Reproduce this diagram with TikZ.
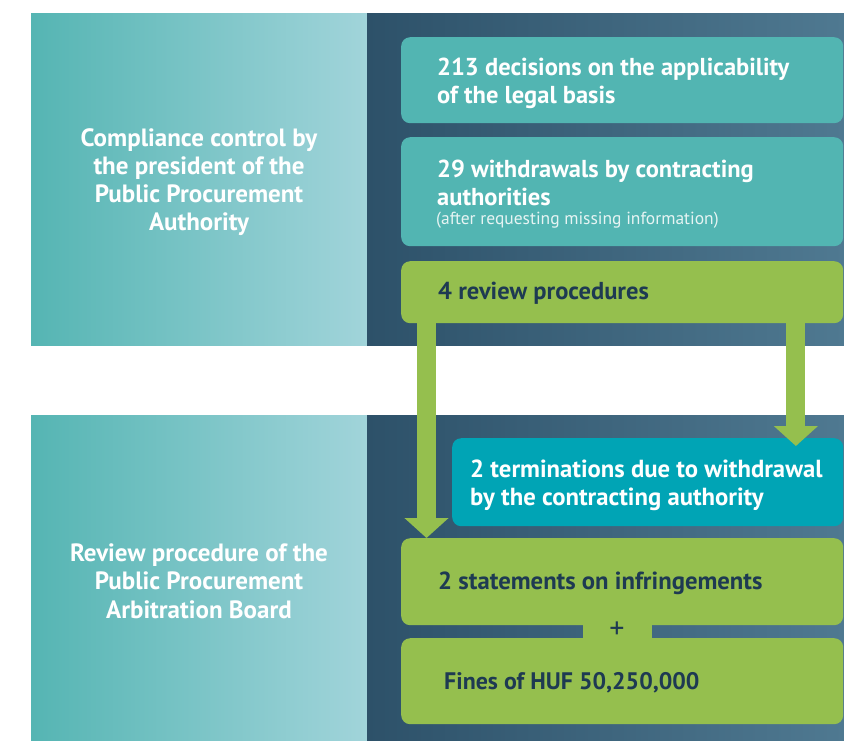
\documentclass[tikz,border=0pt]{standalone}
\usepackage{fontspec}
\setmainfont{PT Sans}
\usetikzlibrary{arrows.meta}
\definecolor{tealL}{HTML}{55B5B3}
\definecolor{tealR}{HTML}{A1D4DA}
\definecolor{darkL}{HTML}{2D5169}
\definecolor{darkR}{HTML}{4F7991}
\definecolor{boxteal}{HTML}{52B5B2}
\definecolor{grn}{HTML}{95BF4E}
\definecolor{termblue}{HTML}{00A4B5}
\definecolor{navy}{HTML}{1E3A52}
\definecolor{paletxt}{HTML}{E6F4F3}
\tikzset{
  boxbase/.style={rounded corners=9pt, inner sep=0pt, anchor=north west},
  tealbox/.style={boxbase, fill=boxteal},
  grnbox/.style={boxbase, fill=grn},
  termbox/.style={boxbase, fill=termblue},
  bigtxt/.style={anchor=west, inner sep=0pt, align=left, font=\bfseries\fontsize{24.7}{28.5}\selectfont},
  condtxt/.style={anchor=west, inner sep=0pt, align=left, font=\bfseries\fontsize{24.5}{28.5}\selectfont},
  sidetxt/.style={inner sep=0pt, align=center, text=white},
  flowarrow/.style={draw=grn, line width=19pt, -{Triangle[length=20pt,width=43pt]}},
}
\begin{document}
\begin{tikzpicture}[x=1pt,y=-1pt]
\useasboundingbox (0,0) rectangle (844,740);
\fill[white] (0,0) rectangle (844,740);
% panels
\shade[left color=tealL, right color=tealR] (31,13) rectangle (367,345);
\shade[left color=darkL, right color=darkR] (367,13) rectangle (844,345);
\shade[left color=tealL, right color=tealR] (31,415) rectangle (367,740);
\shade[left color=darkL, right color=darkR] (367,415) rectangle (844,740);
% side labels
\node[sidetxt, font=\bfseries\fontsize{25}{28}\selectfont] (lab1) at (199,182)
  {Compliance control by\\the president of the\\Public Procurement\\Authority};
\node[sidetxt, font=\bfseries\fontsize{25}{28.5}\selectfont] (lab2) at (199,581)
  {Review procedure of the\\Public Procurement\\Arbitration Board};
% boxes top
\node[tealbox, minimum width=442pt, minimum height=86pt] (b1) at (401,37) {};
\node[condtxt, text=white] (t1) at ([xshift=36pt,yshift=-3pt]b1.west)
  {213 decisions on the applicability\\of the legal basis};
\node[tealbox, minimum width=442pt, minimum height=109pt] (b2) at (401,137) {};
\node[condtxt, text=white] (t2) at ([xshift=36pt,yshift=9pt]b2.west)
  {29 withdrawals by contracting\\authorities};
\node[anchor=west, inner sep=0pt, text=paletxt, font=\fontsize{17.5}{20}\selectfont] (t2b)
  at (436,220) {(after requesting missing information)};
\node[grnbox, minimum width=442pt, minimum height=62pt] (b3) at (401,261) {};
\node[condtxt, text=navy] (t3) at ([xshift=37pt,yshift=-1pt]b3.west) {4 review procedures};
% boxes bottom
\node[termbox, minimum width=391pt, minimum height=88pt] (b4) at (452,438) {};
\node[bigtxt, text=white] (t4) at ([xshift=18pt,yshift=-3pt]b4.west)
  {2 terminations due to withdrawal\\by the contracting authority};
\node[grnbox, minimum width=442pt, minimum height=87pt] (b5) at (401,538) {};
\node[bigtxt, text=navy] (t5) at ([xshift=37pt,yshift=-2pt]b5.west) {2 statements on infringements};
\node[grnbox, minimum width=442pt, minimum height=86pt] (b6) at (401,638) {};
\node[fill=grn, inner sep=0pt, minimum width=69pt, minimum height=16pt] (plus) at (617.5,631.5) {};
\node[inner sep=0pt, text=navy, font=\fontsize{30}{30}\selectfont] (plustxt) at (617,630) {+};
\node[bigtxt, text=navy, font=\bfseries\fontsize{23.9}{28.5}\selectfont] (t6) at ([xshift=43pt,yshift=-2pt]b6.west) {Fines of HUF 50,250,000};
% arrows
\draw[flowarrow] ([xshift=25.5pt,yshift=2pt]b3.south west) -- ([xshift=25.5pt]b5.north west);
\draw[flowarrow] ([xshift=-47.5pt,yshift=2pt]b3.south east) -- ([xshift=-47.5pt,yshift=-8pt]b4.north east);
\end{tikzpicture}
\end{document}
